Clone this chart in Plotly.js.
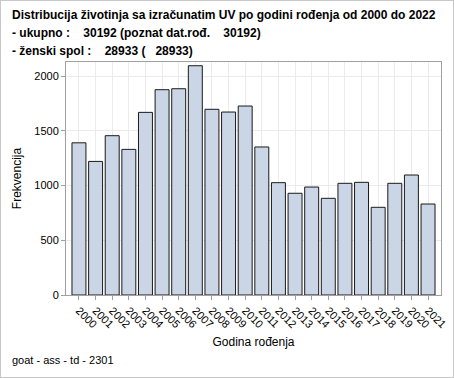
<!DOCTYPE html>
<html>
<head>
<meta charset="utf-8">
<script src="https://cdn.plot.ly/plotly-3.0.1.min.js"></script>
<style>
html,body{margin:0;padding:0;background:#fff;}
#wrap{position:relative;width:454px;height:378px;}
#chart{width:454px;height:378px;}
#frame{position:absolute;left:0;top:0;width:454px;height:378px;box-sizing:border-box;border:1px solid #c8c8c8;pointer-events:none;}
</style>
</head>
<body>
<div id="wrap"><div id="chart"></div><div id="frame"></div></div>
<script>
const years = ["2000","2001","2002","2003","2004","2005","2006","2007","2008","2009","2010","2011","2012","2013","2014","2015","2016","2017","2018","2019","2020","2021"];
const counts = [1390,1220,1455,1330,1668,1875,1884,2094,1696,1671,1726,1352,1026,929,986,883,1020,1029,801,1020,1096,831];
const titleLines = [
  "Distribucija životinja sa izračunatim UV po godini rođenja od 2000 do 2022",
  "- ukupno :    30192 (poznat dat.rođ.    30192)",
  "- ženski spol :    28933 (   28933)"
];
const xTitle = "Godina rođenja";
const yTitle = "Frekvencija";
const footer = "goat - ass - td - 2301";

const L = 66, R = 13, T = 62, B = 83, W = 454, H = 378;
const pw = W - L - R, ph = H - T - B;
const px2x = x => (x - L) / pw;
const px2y = y => (H - B - y) / ph;

const annotations = titleLines.map((t, i) => ({
  text: "<b>" + t.replace(/ /g, "&nbsp;") + "</b>",
  xref: "paper", yref: "paper",
  x: px2x(10), y: px2y(15 + 18 * i),
  xanchor: "left", yanchor: "middle",
  showarrow: false,
  font: {family: "Liberation Sans, Arial, sans-serif", size: 12, color: "#000"}
}));
annotations.push({
  text: footer, xref: "paper", yref: "paper",
  x: px2x(10), y: px2y(360), xanchor: "left", yanchor: "middle",
  showarrow: false,
  font: {family: "Liberation Sans, Arial, sans-serif", size: 11, color: "#000"}
});

const trace = {
  type: "bar",
  x: years.map((_, i) => i),
  y: counts,
  marker: {color: "#cad5e5", line: {color: "#1a1a1a", width: 1}},
  width: 0.84,
  hoverinfo: "x+y"
};

const layout = {
  width: W, height: H,
  margin: {l: L, r: R, t: T, b: B, pad: 0},
  paper_bgcolor: "#fff", plot_bgcolor: "#fff",
  showlegend: false,
  font: {family: "Liberation Sans, Arial, sans-serif", size: 11, color: "#000"},
  xaxis: {
    range: [-0.78, 21.78],
    tickmode: "array", tickvals: years.map((_, i) => i), ticktext: years,
    tickangle: 45,
    ticks: "outside", ticklen: 4, tickcolor: "#a0a0a0",
    showgrid: true, gridcolor: "#ebebeb", gridwidth: 1,
    showline: true, linecolor: "#a0a0a0", mirror: true, linewidth: 1,
    zeroline: false,
    tickfont: {size: 11, color: "#000"},
    title: {text: xTitle, font: {size: 12, color: "#000"}, standoff: 8}
  },
  yaxis: {
    range: [0, 2128],
    tickvals: [0, 500, 1000, 1500, 2000],
    ticks: "outside", ticklen: 4, tickcolor: "#a0a0a0",
    showgrid: true, gridcolor: "#ebebeb", gridwidth: 1,
    showline: true, linecolor: "#a0a0a0", mirror: true, linewidth: 1,
    zeroline: false,
    tickfont: {size: 11, color: "#000"},
    title: {text: yTitle, font: {size: 12, color: "#000"}, standoff: 10}
  },
  annotations: annotations
};

Plotly.newPlot("chart", [trace], layout, {displayModeBar: false, staticPlot: true});
</script>
</body>
</html>
